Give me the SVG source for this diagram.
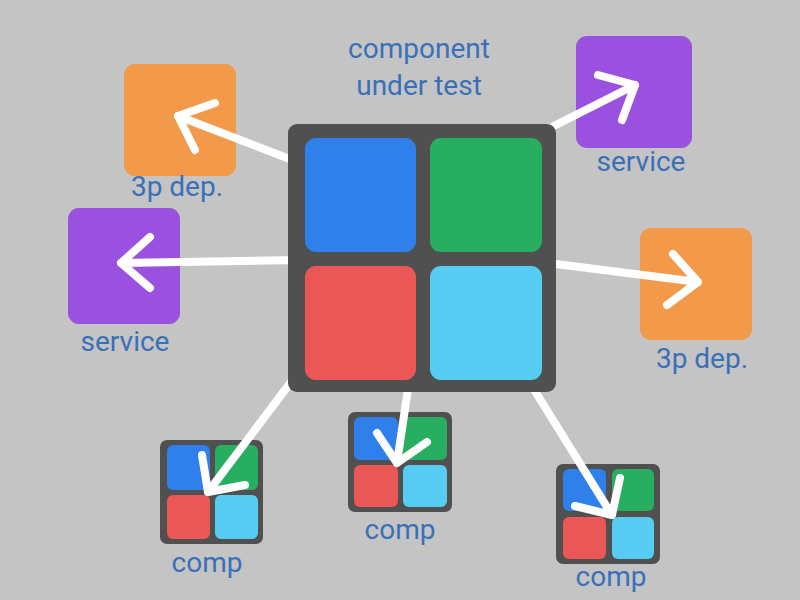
<svg xmlns="http://www.w3.org/2000/svg" width="800" height="600" viewBox="0 0 800 600">
<style>
.lbl{font-family:Roboto,"Liberation Sans",sans-serif;font-size:28px;fill:#3a70b8;text-anchor:middle}
.dark{fill:#505050}
.b{fill:#2f80eb}.g{fill:#27ae60}.r{fill:#eb5757}.c{fill:#56ccf2}
.o{fill:#f2994a}.p{fill:#9b51e0}
.ln{stroke:#fff;stroke-width:8;fill:none;stroke-linecap:round;stroke-linejoin:round}
</style>
<rect width="800" height="600" fill="#c4c4c4"/>
<g id="dep-top-left">
<rect class="o" x="124" y="64" width="112" height="112" rx="11"/>
<text class="lbl" x="177" y="196">3p dep.</text>
</g>
<g id="service-top-right">
<rect class="p" x="576" y="36" width="116" height="112" rx="11"/>
<text class="lbl" x="641" y="171">service</text>
</g>
<g id="service-left">
<rect class="p" x="68" y="208" width="112" height="116" rx="11"/>
<text class="lbl" x="125" y="351">service</text>
</g>
<g id="dep-right">
<rect class="o" x="640" y="228" width="112" height="112" rx="11"/>
<text class="lbl" x="702" y="368">3p dep.</text>
</g>
<g id="comp1">
<rect class="dark" x="160" y="440" width="103" height="104" rx="7"/>
<rect class="b" x="167" y="445" width="43" height="45" rx="6"/>
<rect class="g" x="215" y="445" width="43" height="45" rx="6"/>
<rect class="r" x="167" y="495" width="43" height="44" rx="6"/>
<rect class="c" x="215" y="495" width="43" height="44" rx="6"/>
<text class="lbl" x="207" y="572">comp</text>
</g>
<g id="comp2">
<rect class="dark" x="348" y="412" width="104" height="100" rx="7"/>
<rect class="b" x="354" y="417" width="44" height="43" rx="6"/>
<rect class="g" x="403" y="417" width="44" height="43" rx="6"/>
<rect class="r" x="354" y="465" width="44" height="42" rx="6"/>
<rect class="c" x="403" y="465" width="44" height="42" rx="6"/>
<text class="lbl" x="400" y="539">comp</text>
</g>
<g id="comp3">
<rect class="dark" x="556" y="464" width="104" height="100" rx="7"/>
<rect class="b" x="563" y="469" width="43" height="42" rx="6"/>
<rect class="g" x="612" y="469" width="42" height="42" rx="6"/>
<rect class="r" x="563" y="517" width="43" height="42" rx="6"/>
<rect class="c" x="612" y="517" width="42" height="42" rx="6"/>
<text class="lbl" x="611" y="586">comp</text>
</g>
<g id="connectors">
<path class="ln" d="M300 163 L178 116 M215 103 L178 116 L195 150"/>
<path class="ln" d="M540 133 L635 85 M598 75 L635 85 L622 120"/>
<path class="ln" d="M300 260 L121 263 M150 237 L121 263 L150 288"/>
<path class="ln" d="M540 262 L698 282 M673 254 L698 282 L667 305"/>
<path class="ln" d="M300 370 L208 492 M202 455 L208 492 L245 485"/>
<path class="ln" d="M410 375 L397 463 M377 433 L397 463 L427 442"/>
<path class="ln" d="M525 375 L612 515 M575 506 L612 515 L620 478"/>
</g>
<g id="component-under-test">
<rect class="dark" x="288" y="124" width="268" height="268" rx="9"/>
<rect class="b" x="305" y="138" width="111" height="114" rx="11"/>
<rect class="g" x="430" y="138" width="112" height="114" rx="11"/>
<rect class="r" x="305" y="266" width="111" height="114" rx="11"/>
<rect class="c" x="430" y="266" width="112" height="114" rx="11"/>
<text class="lbl" x="419" y="58">component</text>
<text class="lbl" x="419" y="95">under test</text>
</g>
</svg>
